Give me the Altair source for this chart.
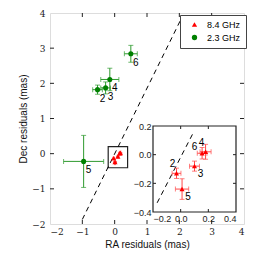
import altair as alt
import pandas as pd

# ---------------- data ----------------
ids = ["2", "3", "4", "5", "6"]

# 2.3 GHz (green)
g_ra = [-0.53, -0.28, -0.15, -0.96, 0.50]
g_dec = [1.82, 1.87, 2.11, -0.22, 2.84]
g_ra_err = [0.15, 0.15, 0.28, 0.62, 0.20]
g_dec_err = [0.13, 0.17, 0.32, 0.74, 0.24]

# 8.4 GHz (red)
r_ra = [-0.03, 0.10, 0.18, 0.01, 0.155]
r_dec = [-0.13, -0.08, 0.02, -0.24, 0.01]
r_ra_err = [0.032, 0.036, 0.040, 0.048, 0.035]
r_dec_err = [0.036, 0.035, 0.052, 0.072, 0.040]

bands = ["8.4 GHz", "2.3 GHz"]
band_colors = ["#ff0000", "#008000"]
band_shapes = ["triangle-up", "circle"]

main_domain = [-2, 4]
main_tick_vals = [-2, -1, 0, 1, 2, 3, 4]
inset_x_domain = [-0.2, 0.4]
inset_y_domain = [-0.4, 0.2]
inset_x_ticks = [-0.2, 0.0, 0.2, 0.4]
inset_y_ticks = [-0.4, -0.2, 0.0, 0.2]

line_main_x = [-1.0, 2.06]
line_main_y = [-1.87, 3.84]
line_inset_x = [-0.17, 0.088]
line_inset_y = [-0.336, 0.147]

red_lab_a = ["2", "4"]   # above-left
red_lab_b = ["6"]        # left
red_lab_c = ["3", "5"]   # below-right

W, H = 194, 211
INSET_X_RANGE = [103, 186]
INSET_Y_RANGE = [199, 113]

# ---------------- frames ----------------
def make_df(ra, dec, rerr, derr, band):
    return pd.DataFrame({
        "id": ids, "ra": ra, "dec": dec,
        "ra_lo": [a - e for a, e in zip(ra, rerr)],
        "ra_hi": [a + e for a, e in zip(ra, rerr)],
        "dec_lo": [a - e for a, e in zip(dec, derr)],
        "dec_hi": [a + e for a, e in zip(dec, derr)],
        "band": band,
    })

gdf = make_df(g_ra, g_dec, g_ra_err, g_dec_err, "2.3 GHz")
rdf = make_df(r_ra, r_dec, r_ra_err, r_dec_err, "8.4 GHz")
alldf = pd.concat([rdf, gdf], ignore_index=True)

XS = alt.Scale(domain=main_domain, nice=False, zero=False)
YS = alt.Scale(domain=main_domain, nice=False, zero=False)
XI = alt.Scale(domain=inset_x_domain, range=INSET_X_RANGE, nice=False, zero=False)
YI = alt.Scale(domain=inset_y_domain, range=INSET_Y_RANGE, nice=False, zero=False)

SERIF = "DejaVu Serif"
SANS = "Liberation Sans"

color_enc = alt.Color("band:N", scale=alt.Scale(domain=bands, range=band_colors),
                      legend=alt.Legend(title=None, orient="none", legendX=130, legendY=2,
                                        strokeColor="#444", fillColor="white", padding=5,
                                        symbolSize=28, labelFontSize=9, labelFont=SANS,
                                        symbolOffset=5, labelOffset=8, rowPadding=3,
                                        symbolStrokeWidth=0))
shape_enc = alt.Shape("band:N", scale=alt.Scale(domain=bands, range=band_shapes))


def errbars(df, xs, ys, color, cap, width=1):
    h = alt.Chart(df).mark_rule(color=color, strokeWidth=width).encode(
        x=alt.X("ra_lo:Q", scale=xs, axis=None), x2="ra_hi:Q",
        y=alt.Y("dec:Q", scale=ys, axis=None))
    v = alt.Chart(df).mark_rule(color=color, strokeWidth=width).encode(
        x=alt.X("ra:Q", scale=xs, axis=None),
        y=alt.Y("dec_lo:Q", scale=ys, axis=None), y2="dec_hi:Q")
    c1 = alt.Chart(df).mark_tick(color=color, orient="vertical", size=cap, thickness=width).encode(
        x=alt.X("ra_lo:Q", scale=xs, axis=None), y=alt.Y("dec:Q", scale=ys, axis=None))
    c2 = alt.Chart(df).mark_tick(color=color, orient="vertical", size=cap, thickness=width).encode(
        x=alt.X("ra_hi:Q", scale=xs, axis=None), y=alt.Y("dec:Q", scale=ys, axis=None))
    c3 = alt.Chart(df).mark_tick(color=color, orient="horizontal", size=cap, thickness=width).encode(
        x=alt.X("ra:Q", scale=xs, axis=None), y=alt.Y("dec_lo:Q", scale=ys, axis=None))
    c4 = alt.Chart(df).mark_tick(color=color, orient="horizontal", size=cap, thickness=width).encode(
        x=alt.X("ra:Q", scale=xs, axis=None), y=alt.Y("dec_hi:Q", scale=ys, axis=None))
    return [h, v, c1, c2, c3, c4]


# ---------------- main panel ----------------
axis_df = pd.DataFrame({"v": main_tick_vals})
main_axes = alt.Chart(axis_df).mark_point(opacity=0).encode(
    x=alt.X("v:Q", scale=XS, title="RA residuals (mas)",
            axis=alt.Axis(orient="bottom", values=main_tick_vals, format="d", ticks=False,
                          domain=False, grid=False,
                          labelFont=SERIF, labelFontSize=9, labelPadding=3, labelColor="#222",
                          titleFont=SANS, titleFontSize=10, titleFontWeight="normal",
                          titlePadding=3, titleColor="#111")),
    y=alt.Y("v:Q", scale=YS, title="Dec residuals (mas)",
            axis=alt.Axis(orient="left", values=main_tick_vals, format="d", ticks=False,
                          domain=False, grid=False,
                          labelFont=SERIF, labelFontSize=9, labelPadding=5, labelColor="#222",
                          titleFont=SANS, titleFontSize=10, titleFontWeight="normal",
                          titlePadding=3, titleColor="#111")),
)

inner_ticks = pd.DataFrame({"v": main_tick_vals[1:-1]})
tk_b = alt.Chart(inner_ticks).mark_rule(color="#222").encode(
    x=alt.X("v:Q", scale=XS, axis=None), y=alt.value(H), y2=alt.value(H - 4))
tk_t = alt.Chart(inner_ticks).mark_rule(color="#222").encode(
    x=alt.X("v:Q", scale=XS, axis=None), y=alt.value(0), y2=alt.value(4))
tk_l = alt.Chart(inner_ticks).mark_rule(color="#222").encode(
    y=alt.Y("v:Q", scale=YS, axis=None), x=alt.value(0), x2=alt.value(4))
tk_r = alt.Chart(inner_ticks).mark_rule(color="#222").encode(
    y=alt.Y("v:Q", scale=YS, axis=None), x=alt.value(W), x2=alt.value(W - 4))

box_df = pd.DataFrame({"x0": [inset_x_domain[0]], "x1": [inset_x_domain[1]],
                       "y0": [inset_y_domain[0]], "y1": [inset_y_domain[1]]})
zoom_box = alt.Chart(box_df).mark_rect(fill=None, stroke="#222", strokeWidth=1.2).encode(
    x=alt.X("x0:Q", scale=XS, axis=None), x2="x1:Q",
    y=alt.Y("y0:Q", scale=YS, axis=None), y2="y1:Q")

line_main = alt.Chart(pd.DataFrame({"x": line_main_x, "y": line_main_y})).mark_line(
    color="black", strokeDash=[5, 4], strokeWidth=1).encode(
    x=alt.X("x:Q", scale=XS, axis=None), y=alt.Y("y:Q", scale=YS, axis=None))

g_err = errbars(gdf, XS, YS, "#2e9a2e", 5)
r_err = errbars(rdf, XS, YS, "#ff4040", 2)

pts_main = alt.Chart(alldf).mark_point(filled=True, size=26, opacity=1).encode(
    x=alt.X("ra:Q", scale=XS, axis=None), y=alt.Y("dec:Q", scale=YS, axis=None),
    color=color_enc, shape=shape_enc)

g_lab = alt.Chart(gdf).mark_text(font=SANS, fontSize=10, dx=5, dy=9, color="black").encode(
    x=alt.X("ra:Q", scale=XS, axis=None), y=alt.Y("dec:Q", scale=YS, axis=None), text="id:N")

main_layers = [main_axes, zoom_box, line_main, *g_err, *r_err, pts_main, g_lab,
               tk_b, tk_t, tk_l, tk_r]

# ---------------- inset ----------------
inset_bg = alt.Chart(box_df).mark_rect(fill="white", stroke="#222", strokeWidth=1.2).encode(
    x=alt.X("x0:Q", scale=XI, axis=None), x2="x1:Q",
    y=alt.Y("y0:Q", scale=YI, axis=None), y2="y1:Q")

inset_axes = alt.Chart(pd.DataFrame({"vx": inset_x_ticks, "vy": inset_y_ticks})).mark_point(opacity=0).encode(
    x=alt.X("vx:Q", scale=XI, title=None,
            axis=alt.Axis(orient="bottom", offset=-12, values=inset_x_ticks, format=".1f",
                          ticks=False, domain=False, grid=False, labelFont=SANS,
                          labelFontSize=9, labelPadding=2, labelColor="#222")),
    y=alt.Y("vy:Q", scale=YI, title=None,
            axis=alt.Axis(orient="left", offset=-103, values=inset_y_ticks, format=".1f",
                          ticks=False, domain=False, grid=False, labelFont=SANS,
                          labelFontSize=9, labelPadding=2, labelColor="#222")),
)

itx = pd.DataFrame({"v": inset_x_ticks[1:-1]})
ity = pd.DataFrame({"v": inset_y_ticks[1:-1]})
itk_b = alt.Chart(itx).mark_rule(color="#222").encode(
    x=alt.X("v:Q", scale=XI, axis=None), y=alt.value(INSET_Y_RANGE[0]), y2=alt.value(INSET_Y_RANGE[0] - 3))
itk_t = alt.Chart(itx).mark_rule(color="#222").encode(
    x=alt.X("v:Q", scale=XI, axis=None), y=alt.value(INSET_Y_RANGE[1]), y2=alt.value(INSET_Y_RANGE[1] + 3))
itk_l = alt.Chart(ity).mark_rule(color="#222").encode(
    y=alt.Y("v:Q", scale=YI, axis=None), x=alt.value(INSET_X_RANGE[0]), x2=alt.value(INSET_X_RANGE[0] + 3))
itk_r = alt.Chart(ity).mark_rule(color="#222").encode(
    y=alt.Y("v:Q", scale=YI, axis=None), x=alt.value(INSET_X_RANGE[1]), x2=alt.value(INSET_X_RANGE[1] - 3))

line_inset = alt.Chart(pd.DataFrame({"x": line_inset_x, "y": line_inset_y})).mark_line(
    color="black", strokeDash=[5, 4], strokeWidth=1).encode(
    x=alt.X("x:Q", scale=XI, axis=None), y=alt.Y("y:Q", scale=YI, axis=None))

ri_err = errbars(rdf, XI, YI, "#ff4a4a", 5)
pts_inset = alt.Chart(rdf).mark_point(filled=True, size=26, shape="triangle-up", color="#ff0000", opacity=1).encode(
    x=alt.X("ra:Q", scale=XI, axis=None), y=alt.Y("dec:Q", scale=YI, axis=None))


def red_labels(group, dx, dy):
    return alt.Chart(rdf).transform_filter(
        alt.FieldOneOfPredicate(field="id", oneOf=group)).mark_text(
        font=SANS, fontSize=10, dx=dx, dy=dy, color="black").encode(
        x=alt.X("ra:Q", scale=XI, axis=None), y=alt.Y("dec:Q", scale=YI, axis=None), text="id:N")


inset_layers = [inset_bg, inset_axes, line_inset, *ri_err, pts_inset,
                red_labels(red_lab_a, -4, -9), red_labels(red_lab_b, -7.5, -6.5),
                red_labels(red_lab_c, 6, 8),
                itk_b, itk_t, itk_l, itk_r]

chart = alt.layer(*main_layers, *inset_layers).resolve_scale(x="independent", y="independent").properties(
    width=W, height=H, autosize=alt.AutoSizeParams(type="none"),
    padding={"left": 42, "top": 5, "right": 5, "bottom": 30},
).configure_view(stroke="#222", strokeWidth=1.3).configure(background="white")

chart.save("out.html", embed_options={"renderer": "svg", "actions": False})
